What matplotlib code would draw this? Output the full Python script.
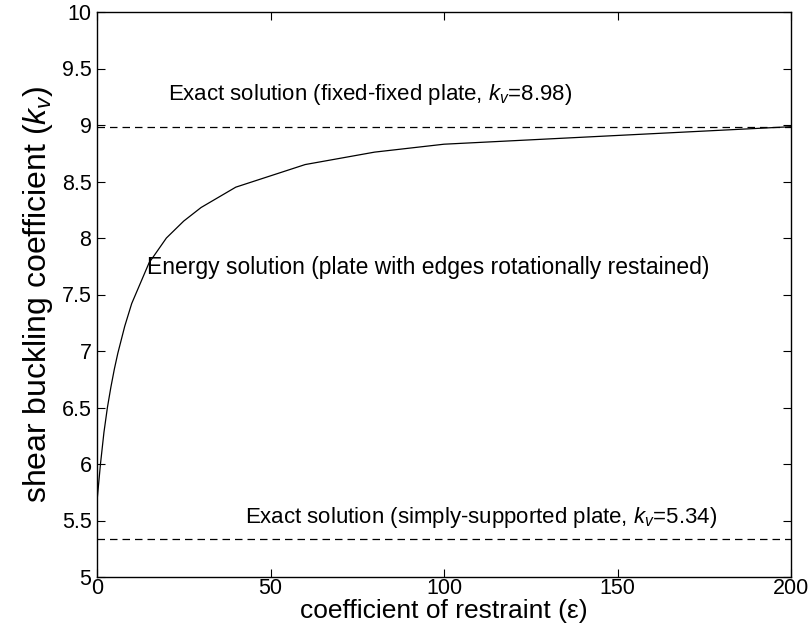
import matplotlib
matplotlib.use("Agg")
import matplotlib.pyplot as plt

# data
eps = [0, 1, 2, 3, 4, 5, 6, 8, 10, 15, 20, 25, 30, 40, 60, 80, 100, 200]
kv_energy = [5.67, 6.0, 6.28, 6.5, 6.68, 6.84, 6.98, 7.22, 7.42, 7.78, 8.0, 8.15,
             8.27, 8.45, 8.65, 8.76, 8.83, 8.985]
kv_fixed = 8.98
kv_ss = 5.34
xticks = [0, 50, 100, 150, 200]
yticks = [5, 5.5, 6, 6.5, 7, 7.5, 8, 8.5, 9, 9.5, 10]
ytick_labels = ["5", "5.5", "6", "6.5", "7", "7.5", "8", "8.5", "9", "9.5", "10"]

plt.rcParams['font.family'] = ['Liberation Sans', 'DejaVu Sans']
plt.rcParams['mathtext.fontset'] = 'custom'
plt.rcParams['mathtext.it'] = 'Liberation Sans:italic'
plt.rcParams['mathtext.rm'] = 'Liberation Sans'

fig = plt.figure(figsize=(8.11, 6.24), dpi=100)
ax = fig.add_axes([97/811, 47/624, 694/811, 565/624])

ax.plot(eps, kv_energy, color='black', lw=0.9)
ax.plot([xticks[0], xticks[-1]], [kv_fixed, kv_fixed], color='black', lw=0.9,
        linestyle=(0, (6, 4)))
ax.plot([xticks[0], xticks[-1]], [kv_ss, kv_ss], color='black', lw=0.9,
        linestyle=(0, (6, 4)))

ax.set_xlim(0, 200)
ax.set_ylim(5, 10)
ax.set_xticks(xticks)
ax.set_yticks(yticks)
ax.set_yticklabels(ytick_labels)
ax.tick_params(direction='in', top=True, right=True, length=6, width=0.8,
               labelsize=15.5)
ax.tick_params(axis='x', pad=1)
ax.tick_params(axis='y', pad=4)
for s in ax.spines.values():
    s.set_linewidth(1.0)

ax.text(20.5, 9.27, r"Exact solution (fixed-fixed plate, $k_v$=8.98)",
        fontsize=16, ha='left', va='center')
ax.text(14.4, 7.74, "Energy solution (plate with edges rotationally restained)",
        fontsize=16.5, ha='left', va='center')
ax.text(42.6, 5.53, r"Exact solution (simply-supported plate, $k_v$=5.34)",
        fontsize=16, ha='left', va='center')

ax.set_xlabel("coefficient of restraint (\u03b5)", fontsize=19, labelpad=0)
ax.set_ylabel(r"shear buckling coefficient ($k_v$)", fontsize=23, labelpad=5)

fig.savefig("out.png", dpi=100)
